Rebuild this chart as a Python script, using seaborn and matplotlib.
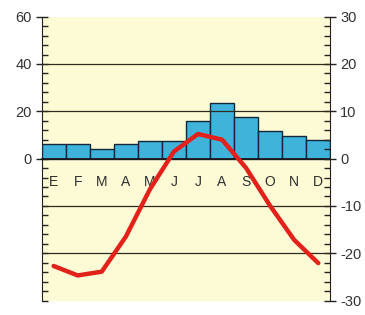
import numpy as np
import pandas as pd
import seaborn as sns
import matplotlib.pyplot as plt
from matplotlib.ticker import MultipleLocator

months = ["E", "F", "M", "A", "M", "J", "J", "A", "S", "O", "N", "D"]
precip = [6.3, 6.3, 4.2, 6.0, 7.3, 7.3, 15.9, 23.5, 17.6, 11.5, 9.7, 7.7]
temp = [-22.7, -24.7, -23.9, -16.5, -6.5, 1.5, 5.2, 4.0, -2.0, -10.0, -17.2, -22.1]
precip_ticks = [0, 20, 40, 60]
temp_ticks = [-30, -20, -10, 0, 10, 20, 30]
grid_levels = [-20, -10, 10, 20]  # temperature scale

sns.set_style("white")
plt.rcParams["font.family"] = ["Liberation Sans", "DejaVu Sans"]
plt.rcParams["axes.unicode_minus"] = False

df = pd.DataFrame({"idx": np.arange(len(months)), "month": months,
                   "precip": precip, "temp": temp})

fig = plt.figure(figsize=(3.65, 3.15), dpi=100)
ax = fig.add_axes([0.114, 0.046, 0.791, 0.901])
ax.set_facecolor("#fdfbd6")

sns.barplot(data=df, x="idx", y="precip", ax=ax, width=1.0, color="#3fb3da",
            saturation=1, edgecolor="#14263a", linewidth=1.0, zorder=3)
ax.set_xlim(-0.5, len(months) - 0.5)
ax.set_ylim(-60, 60)

ax2 = ax.twinx()
for v in grid_levels:
    ax2.axhline(v, color="#2b2b1e", lw=0.9, zorder=1)
sns.lineplot(x=df["idx"], y=df["temp"], ax=ax2, color="#e3211b", lw=3.2,
             solid_joinstyle="round", solid_capstyle="round", zorder=5)
ax2.set_ylim(-30, 30)
ax2.set_xlim(-0.5, len(months) - 0.5)

# month letters below the zero line
for i, m in enumerate(months):
    ax2.text(i, -5, m, ha="center", va="center", fontsize=10, color="#2e2e2e")

# left axis
ax.set_yticks(precip_ticks)
ax.yaxis.set_minor_locator(MultipleLocator(4))
ax.tick_params(axis="y", which="major", direction="inout", length=8, width=1,
               labelsize=10.5, colors="#222222", labelcolor="#333333", pad=3)
ax.tick_params(axis="y", which="minor", direction="in", length=4, width=1,
               color="#222222")
ax.set_ylabel("")
ax.set_xlabel("")

# zero line with month boundary ticks
ax.spines["bottom"].set_position(("data", 0))
ax.spines["bottom"].set_linewidth(1.3)
ax.spines["bottom"].set_color("#1a1a1a")
ax.spines["bottom"].set_zorder(4)
ax.set_xticks(np.arange(len(months) + 1) - 0.5)
ax.tick_params(axis="x", direction="out", length=5, width=1, color="#1a1a1a",
               labelbottom=False)
ax.spines["top"].set_visible(False)
ax.spines["right"].set_visible(False)
ax.spines["left"].set_color("#222222")

# right axis
ax2.set_yticks(temp_ticks)
ax2.yaxis.set_minor_locator(MultipleLocator(2))
ax2.tick_params(axis="y", which="major", direction="inout", length=8, width=1,
                labelsize=10.5, colors="#222222", labelcolor="#333333", pad=3)
ax2.tick_params(axis="y", which="minor", direction="in", length=4, width=1,
                color="#222222")
ax2.set_ylabel("")
ax2.set_xlabel("")
for s in ["top", "bottom", "left"]:
    ax2.spines[s].set_visible(False)
ax2.spines["right"].set_color("#222222")

fig.savefig("out.png", dpi=100, facecolor="white")
